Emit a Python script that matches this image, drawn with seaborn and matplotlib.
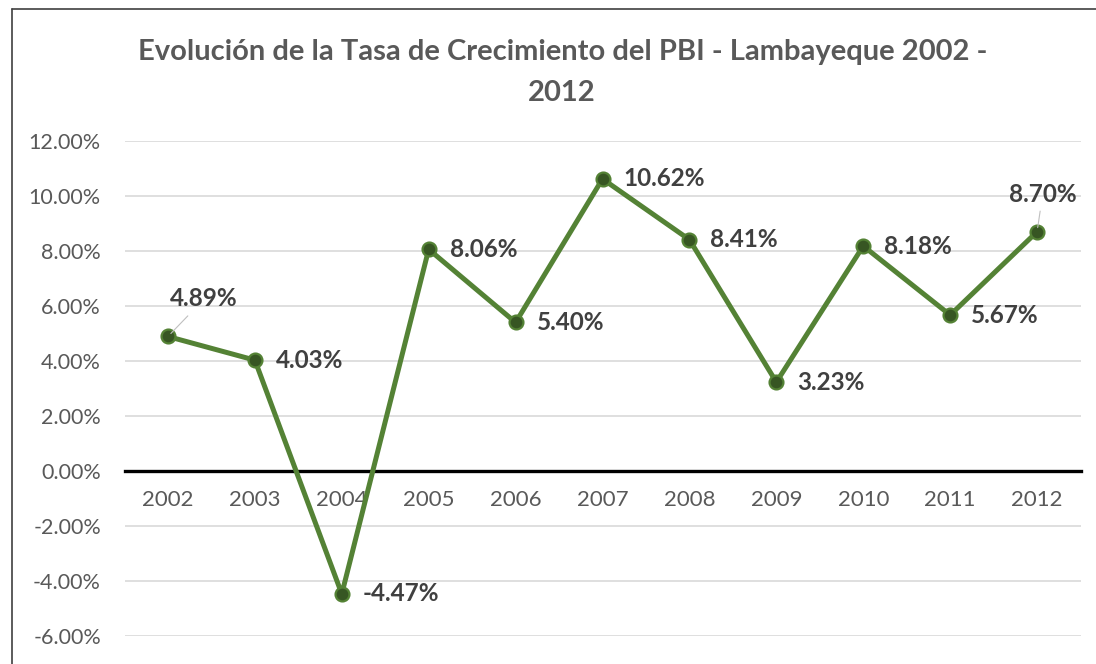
import matplotlib
matplotlib.use("Agg")
import matplotlib.pyplot as plt
import matplotlib.ticker as mtick
from matplotlib.lines import Line2D
import pandas as pd
import seaborn as sns

# Datos: tasa de crecimiento del PBI (%)
years = ["2002", "2003", "2004", "2005", "2006", "2007", "2008", "2009", "2010", "2011", "2012"]
growth = [4.89, 4.03, -4.47, 8.06, 5.40, 10.62, 8.41, 3.23, 8.18, 5.67, 8.70]
title = "Evolución de la Tasa de Crecimiento del PBI - Lambayeque 2002 -\n2012"

df = pd.DataFrame({"Año": years, "Tasa": growth})
df["pos"] = range(len(df))

sns.set_theme(style="white")
plt.rcParams["font.family"] = ["Lato", "DejaVu Sans"]

fig = plt.figure(figsize=(10.96, 6.64), dpi=100)
ax = fig.add_axes([0.1136, 0.0422, 0.8723, 0.7455])

# gridlines
for v in range(-6, 13, 2):
    if v != 0:
        ax.axhline(v, color="#d9d9d9", lw=1.2, zorder=0)

sns.lineplot(data=df, x="pos", y="Tasa", ax=ax, color="#548235", lw=3.6,
             marker="o", markersize=10, markerfacecolor="#375623",
             markeredgecolor="#548235", markeredgewidth=1.6, zorder=3)

ax.set_xlim(-0.5, len(years) - 0.5)
ax.set_ylim(-6, 12)
ax.set_yticks(range(-6, 13, 2))
ax.yaxis.set_major_formatter(mtick.FuncFormatter(lambda v, p: f"{v:.2f}%"))
ax.set_xticks(df["pos"])
ax.set_xticklabels(years)
ax.set_xlabel("")
ax.set_ylabel("")

for s in ["top", "right", "left"]:
    ax.spines[s].set_visible(False)
ax.spines["bottom"].set_position(("data", 0))
ax.spines["bottom"].set_color("black")
ax.spines["bottom"].set_linewidth(2.4)
ax.spines["bottom"].set_zorder(2)
ax.tick_params(axis="both", length=0, labelcolor="#595959")
ax.tick_params(axis="x", pad=14, labelsize=16)
ax.tick_params(axis="y", pad=17, labelsize=15.5)

# etiquetas de datos
offsets = {0: (26, 27, "center"), 10: (4, 27, "center")}
for i, v in enumerate(growth):
    dx, dy, ha = offsets.get(i, (15, 0, "left"))
    ax.annotate(f"{v:.2f}%", (i, v), xytext=(dx, dy), textcoords="offset points",
                ha=ha, va="center", fontsize=17.5, fontweight="bold", color="#404040",
                zorder=4)
    if i in offsets:
        ax.annotate("", (i, v), xytext=(dx * 0.55, dy * 0.55), textcoords="offset points",
                    arrowprops=dict(arrowstyle="-", color="#bfbfbf", lw=0.8,
                                    shrinkA=0, shrinkB=3))

fig.text(0.513, 0.942, title, ha="center", va="top", fontsize=21, fontweight="bold",
         color="#595959", linespacing=1.75)

# marco del gráfico
fig.add_artist(Line2D([0.0105, 0.0105], [0.0, 0.987], color="#404040", lw=1.2))
fig.add_artist(Line2D([0.0105, 1.0], [0.987, 0.987], color="#404040", lw=1.2))

fig.savefig("out.png", dpi=100, facecolor="white")
